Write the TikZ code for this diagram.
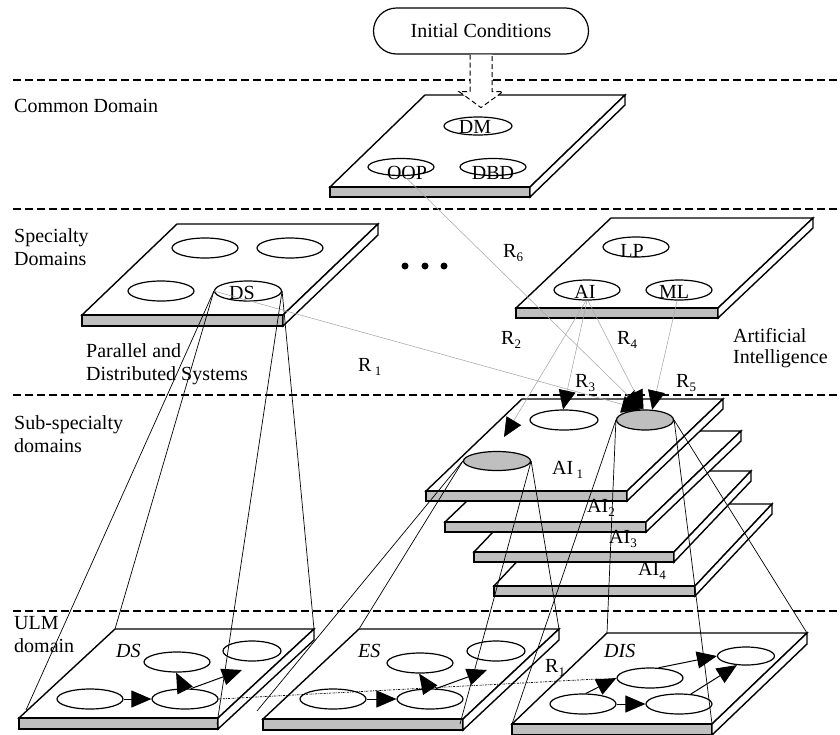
\documentclass[tikz,border=0pt]{standalone}
\usepackage{fontspec}
\setmainfont{Liberation Serif}
\usetikzlibrary{arrows.meta,shapes.geometric}

\definecolor{slabgray}{gray}{0.75}
\definecolor{linkgray}{gray}{0.66}

% small lowered index (R_1, AI_1 ...)
\newcommand\lowidx[1]{\raisebox{-0.22em}{\fontsize{13}{13}\selectfont#1}}

% a flat slab seen in oblique view:
% #1,#2 front-left corner of the top face, #3 width, #4/#5 depth offset (right/up), #6 thickness, #7 name
\newcommand\drawslab[7]{%
  \filldraw[slabline, fill=white] (#1,#2) -- ++(#3,0) -- ++(#4,-#5) -- ++(-#3,0) -- cycle;
  \filldraw[slabline, fill=slabgray] (#1,#2) rectangle ++(#3,#6);
  \filldraw[slabline, fill=white] ({#1+#3},#2) -- ++(#4,-#5) -- ++(0,#6) -- ++(-#4,#5) -- cycle;
  \coordinate (#7-fl) at (#1,#2);
  \coordinate (#7-fr) at ({#1+#3},#2);
  \coordinate (#7-bl) at ({#1+#4},{#2-#5});
  \coordinate (#7-br) at ({#1+#3+#4},{#2-#5});
}

\tikzset{
  layer/.style={dash pattern=on 8pt off 4pt, line width=1.1pt},
  slabline/.style={line width=1.4pt, line join=miter},
  oval/.style={ellipse, draw, line width=1.2pt, inner sep=0pt, minimum width=66pt, minimum height=20pt},
  shadedoval/.style={oval, fill=slabgray},
  txt/.style={inner sep=0pt, anchor=base},
  lefttxt/.style={inner sep=0pt, anchor=base west, align=left},
  proj/.style={line width=0.7pt},
  rel/.style={linkgray, line width=0.55pt, -{Triangle[length=19pt,width=17pt,color=black]}},
  flow/.style={line width=1pt, -{Triangle[length=20pt,width=17pt]}},
  dotline/.style={line width=0.7pt, dash pattern=on 2pt off 1pt on 0.6pt off 1pt},
  blockarrow/.style={dash pattern=on 5pt off 3pt, line width=1pt, fill=white},
}

\begin{document}
\begin{tikzpicture}[x=1pt, y=-1pt, font=\fontsize{20}{22.5}\selectfont]
\useasboundingbox (0,0) rectangle (840,734);

% level separators
\foreach \yy in {80,209,395,611} \draw[layer] (13,\yy) -- (840,\yy);

% starting point
\node[draw, line width=1.2pt, rounded corners=23pt, minimum width=215pt, minimum height=46pt, inner sep=0pt] (ic) at (481,31) {Initial Conditions};

% ---------- slabs ----------
\drawslab{330}{187}{200}{95}{92}{10}{cd}
\drawslab{82}{315}{201}{95}{91}{11}{pd}
\drawslab{516}{308}{202}{95}{90}{10}{ai}
\drawslab{494}{586}{201}{77}{82}{10}{aiq}
\drawslab{474}{552}{200}{77}{81}{10}{ait}
\drawslab{445}{522}{201}{95}{91}{10}{aib}
\drawslab{426}{491}{201}{96}{92}{10}{aia}
\drawslab{19}{718}{199}{96}{89}{11}{dsp}
\drawslab{263}{719}{200}{96}{90}{11}{esp}
\drawslab{512}{724}{200}{95}{91}{11}{disp}

% ---------- common domain ----------
\node[oval, minimum width=68pt, minimum height=18pt] (dm) at (478,126) {};
\node[oval, minimum height=17pt] (oop) at (401,167) {};
\node[oval, minimum height=17pt] (dbd) at (493,167) {};
\node[txt] (dmt) at (475,133) {DM};
\node[txt] (oopt) at (407,179) {OOP};
\node[txt] (dbdt) at (493,179) {DBD};

% ---------- parallel and distributed systems ----------
\node[oval] (pda) at (205,248) {};
\node[oval] (pdb) at (290,248) {};
\node[oval] (pdc) at (161,291) {};
\node[oval, minimum width=67pt] (ds) at (248,291) {};
\node[txt] (dst) at (242,299) {DS};

% ---------- artificial intelligence ----------
\node[oval] (lp) at (636,247) {};
\node[oval] (aiS) at (587,290) {};
\node[oval] (ml) at (679,290) {};
\node[txt] (lpt) at (632,257) {LP};
\node[txt] (ait) at (585,298) {AI};
\node[txt] (mlt) at (674,298) {ML};

% more specialty domains
\foreach \xx in {405,425,444} \fill (\xx,266) circle (3.5pt);

% ---------- AI sub-specialties ----------
\node[oval, minimum width=68pt] (aiw) at (564,420) {};
\node[shadedoval, minimum width=57pt] (air) at (645,420) {};
\node[shadedoval, minimum width=67pt, minimum height=19pt] (ail) at (497,461) {};

% ---------- ULM ovals ----------
\node[oval] (dsa) at (90,699) {};
\node[oval] (dsb) at (185,699) {};
\node[oval] (dsc) at (177,662) {};
\node[oval, minimum width=58pt] (dsd) at (252,651) {};

\node[oval] (esa) at (333,699) {};
\node[oval] (esb) at (430,699) {};
\node[oval] (esc) at (420,663) {};
\node[oval, minimum width=58pt] (esd) at (496,651) {};

\node[oval] (disa) at (583,704) {};
\node[oval] (disb) at (679,704) {};
\node[oval] (disc) at (650,678) {};
\node[oval, minimum width=57pt, minimum height=18pt] (disd) at (746,656) {};

% initial conditions feed the common domain
\filldraw[blockarrow] ([xshift=-11pt]ic.south) -- ++(0,37) -- ++(-11,0) -- ++(22,16) -- ++(22,-16) -- ++(-11,0) -- ([xshift=11pt]ic.south);

% ---------- projections onto lower levels ----------
\coordinate (dsend1) at (26,710);
\coordinate (dsend2) at (217,724);
\draw[proj] (ds.west) -- (dsend1);
\draw[proj] (ds.west) -- (dsp-bl);
\draw[proj] (ds.east) -- (dsend2);
\draw[proj] (ds.east) -- (dsp-br);

\coordinate (esend1) at (257,711);
\coordinate (esend2) at (460,724);
\draw[proj] (ail.west) -- (esend1);
\draw[proj] (ail.west) -- (esp-bl);
\draw[proj] (ail.east) -- (esend2);
\draw[proj] (ail.east) -- (esp-br);

\draw[proj] (air.west) -- (disp-fl);
\draw[proj] (air.west) -- (disp-bl);
\draw[proj] (air.east) -- (disp-fr);
\draw[proj] (air.east) -- (disp-br);

% ---------- relations R1..R6 ----------
\coordinate (rtwotip) at (504,437);
\draw[rel] (oop.290) -- (air.105);
\draw[rel] (ds.west) -- (air.112);
\draw[rel] (aiS.265) -- (rtwotip);
\draw[rel] (aiS.270) -- (aiw.95);
\draw[rel] (aiS.275) -- (air.98);
\draw[rel] (ml.260) -- (air.55);

% ---------- ULM flows ----------
\coordinate (dsarr) at (242,670);
\draw[flow] (dsa) -- (dsb);
\draw[flow] (dsb.95) -- (dsc.265);
\draw[flow] (dsb.60) -- (dsarr);

\coordinate (esarr) at (487,670);
\draw[flow] (esa) -- (esb);
\draw[flow] (esb.95) -- (esc.265);
\draw[flow] (esb.60) -- (esarr);

\draw[flow] (disa) -- (disb);
\draw[flow] (disa.75) -- (disc.west);
\draw[flow] (disb.40) -- (disd.225);
\draw[flow] (disc.50) -- (disd.west);

\draw[dotline, shorten >=16pt] (dsb.east) -- (disc.west);

% ---------- labels (base = last line) ----------
\node[lefttxt] (lcd) at (14,112) {Common Domain};
\node[lefttxt] (lsd) at (14,265) {Specialty\\Domains};
\node[lefttxt] (lssd) at (14,452) {Sub-specialty\\domains};
\node[lefttxt] (lulm) at (14,652) {ULM\\domain};

\node[lefttxt] (lpds) at (86,380) {Parallel and\\Distributed Systems};
\node[lefttxt] (lai) at (733,363) {Artificial\\[-1.5pt]Intelligence};

\node[lefttxt] (rsix) at (503,257) {R\lowidx{6}};
\node[lefttxt] (rtwo) at (501,344) {R\lowidx{2}};
\node[lefttxt] (rfour) at (617,344) {R\lowidx{4}};
\node[lefttxt] (rthree) at (575,387) {R\lowidx{3}};
\node[lefttxt] (rfive) at (676,387) {R\lowidx{5}};
\node[lefttxt] (rone) at (358,371) {R\,\lowidx{1}};
\node[lefttxt] (roneb) at (545,672) {R\lowidx{1}};

\node[lefttxt] (lai1) at (552,474) {AI\,\lowidx{1}};
\node[lefttxt] (lai2) at (587,512) {AI\lowidx{2}};
\node[lefttxt] (lai3) at (609,543) {AI\lowidx{3}};
\node[lefttxt] (lai4) at (638,575) {AI\lowidx{4}};

\node[lefttxt] (lds) at (116,657) {\itshape DS};
\node[lefttxt] (les) at (358,657) {\itshape ES};
\node[lefttxt] (ldis) at (604,657) {\itshape DIS};
\end{tikzpicture}
\end{document}
